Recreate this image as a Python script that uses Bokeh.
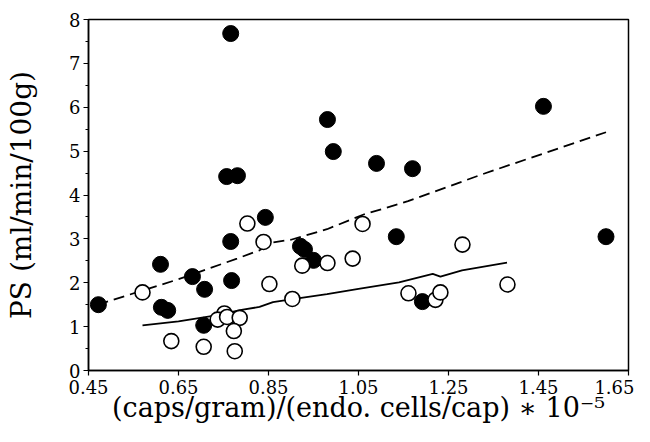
from bokeh.plotting import figure
from bokeh.models import Range1d, FixedTicker
from bokeh.embed import file_html
from bokeh.resources import INLINE

# filled circles
filled_x = [0.472, 0.610, 0.612, 0.626, 0.681, 0.708, 0.706, 0.766, 0.757, 0.781,
            0.766, 0.768, 0.843, 0.981, 0.994, 0.921, 0.930, 0.950, 1.090, 1.170,
            1.461, 1.134, 1.192, 1.600]
filled_y = [1.50, 2.42, 1.44, 1.37, 2.14, 1.85, 1.03, 7.68, 4.42, 4.44,
            2.94, 2.05, 3.49, 5.72, 4.99, 2.83, 2.76, 2.51, 4.72, 4.60,
            6.02, 3.05, 1.57, 3.05]

# open circles
open_x = [0.803, 0.839, 0.570, 0.852, 0.752, 0.737, 0.758, 0.786, 0.773, 0.634,
          0.706, 0.775, 1.059, 0.925, 0.981, 1.037, 0.903, 1.161, 1.221, 1.232,
          1.281, 1.381]
open_y = [3.35, 2.93, 1.78, 1.97, 1.30, 1.16, 1.22, 1.20, 0.90, 0.67,
          0.54, 0.44, 3.34, 2.39, 2.45, 2.55, 1.63, 1.76, 1.61, 1.78,
          2.87, 1.96]

# dashed line (filled-symbol fit)
dash_x = [0.47, 0.65, 0.78, 0.83, 0.86, 0.90, 0.98, 1.06, 1.16, 1.33, 1.60]
dash_y = [1.50, 2.08, 2.55, 2.74, 2.92, 2.98, 3.22, 3.55, 3.86, 4.49, 5.43]

# solid line (open-symbol fit)
solid_x = [0.57, 0.65, 0.73, 0.79, 0.83, 0.86, 0.90, 0.98, 1.05, 1.14, 1.215, 1.232, 1.28, 1.38]
solid_y = [1.03, 1.12, 1.25, 1.38, 1.45, 1.56, 1.62, 1.74, 1.86, 2.01, 2.20, 2.14, 2.28, 2.46]

x_ticks = [0.45, 0.65, 0.85, 1.05, 1.25, 1.45, 1.65]
x_tick_labels = ["0.45", "0.65", "0.85", "1.05", "1.25", "1.45", "1.65"]
y_ticks = [0, 1, 2, 3, 4, 5, 6, 7, 8]
y_minor = [0.5, 1.5, 2.5, 3.5, 4.5, 5.5, 6.5, 7.5]

x_title = "(caps/gram)/(endo. cells/cap) \u2217 10\u207b\u2075"
y_title = "PS (ml/min/100g)"

FONT = "DejaVu Serif"

p = figure(width=634, height=426, output_backend="svg", toolbar_location=None,
           x_range=Range1d(0.45, 1.65), y_range=Range1d(0, 8))
p.min_border_left = 88
p.min_border_right = 6
p.min_border_top = 19
p.min_border_bottom = 56
p.xgrid.visible = False
p.ygrid.visible = False
p.outline_line_color = "black"
p.outline_line_width = 1.5
p.background_fill_color = "white"
p.border_fill_color = "white"

p.xaxis.ticker = FixedTicker(ticks=x_ticks, minor_ticks=[])
p.xaxis.major_label_overrides = {t: l for t, l in zip(x_ticks, x_tick_labels)}
p.yaxis.ticker = FixedTicker(ticks=y_ticks, minor_ticks=y_minor)

for ax in (p.xaxis, p.yaxis):
    ax.axis_line_color = "black"
    ax.axis_line_width = 1.5
    ax.major_tick_line_color = "black"
    ax.minor_tick_line_color = "black"
    ax.major_tick_line_width = 1.2
    ax.minor_tick_line_width = 1
    ax.major_label_text_font = FONT
    ax.major_label_text_font_size = "18px"
    ax.major_label_text_color = "black"
    ax.axis_label_text_font = FONT
    ax.axis_label_text_font_style = "normal"
    ax.axis_label_text_color = "black"

p.xaxis.major_tick_out = 5
p.xaxis.major_tick_in = 0
p.xaxis.major_label_standoff = 4
p.yaxis.major_tick_out = 5
p.yaxis.major_tick_in = 0
p.yaxis.minor_tick_out = 3
p.yaxis.minor_tick_in = 0
p.yaxis.major_label_standoff = 3

p.yaxis.axis_label = y_title
p.yaxis.axis_label_text_font_size = "28px"
p.yaxis.axis_label_standoff = 28

p.xaxis.axis_label = x_title
p.xaxis.axis_label_text_font_size = "27px"
p.xaxis.axis_label_standoff = -5

p.line(dash_x, dash_y, line_color="black", line_width=1.8, line_dash="11 6")
p.line(solid_x, solid_y, line_color="black", line_width=1.8)

p.scatter(filled_x, filled_y, size=16, marker="circle", fill_color="black", line_color="black")
p.scatter(open_x, open_y, size=15, marker="circle", fill_color="white",
          line_color="black", line_width=1.6)

open("out.html", "w").write(file_html(p, INLINE))
